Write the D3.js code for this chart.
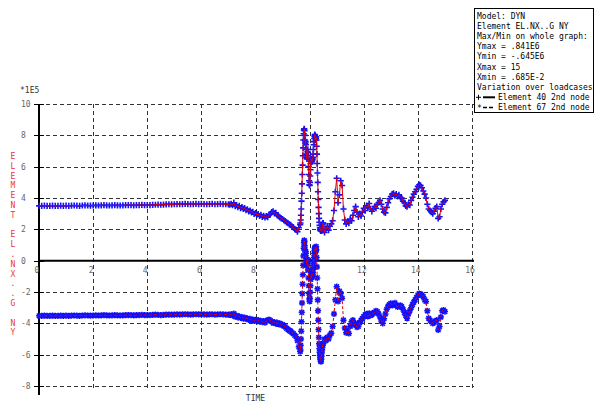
<!DOCTYPE html>
<html>
<head>
<meta charset="utf-8">
<script src="https://cdn.jsdelivr.net/npm/d3@7"></script>
<style>
  body { margin: 0; background: #fff; }
  text { font-family: "DejaVu Sans Mono", monospace; font-size: 8px; }
</style>
</head>
<body>
<script>
// time samples (loadcases)
let times = [
    0.007, 0.1, 0.2, 0.3, 0.4, 0.5, 0.6, 0.7, 0.8, 0.9, 1.0,
    1.1, 1.2, 1.3, 1.4, 1.5, 1.6, 1.7, 1.8, 1.9, 2.0,
    2.1, 2.2, 2.3, 2.4, 2.5, 2.6, 2.7, 2.8, 2.9, 3.0,
    3.1, 3.2, 3.3, 3.4, 3.5, 3.6, 3.7, 3.8, 3.9, 4.0,
    4.1, 4.2, 4.3, 4.4, 4.5, 4.6, 4.7, 4.8, 4.9, 5.0,
    5.1, 5.2, 5.3, 5.4, 5.5, 5.6, 5.7, 5.8, 5.9, 6.0,
    6.1, 6.2, 6.3, 6.4, 6.5, 6.6, 6.7, 6.8, 6.9, 7.0,
    7.05, 7.1, 7.15, 7.2, 7.25, 7.3, 7.35, 7.4, 7.45, 7.5, 7.55, 7.6, 7.65, 7.7, 7.75, 7.8, 7.85, 7.9, 7.95, 8.0,
    8.05, 8.1, 8.15, 8.2, 8.25, 8.3, 8.35, 8.4, 8.45, 8.5, 8.55, 8.6, 8.65, 8.7, 8.75, 8.8, 8.85, 8.9, 8.95, 9.0,
    9.05, 9.1, 9.15, 9.2, 9.25, 9.3, 9.35, 9.4, 9.45, 9.5,
    9.55, 9.6, 9.65,
    9.66, 9.67, 9.68, 9.69, 9.7, 9.71, 9.72, 9.73, 9.74, 9.75, 9.76, 9.77, 9.78, 9.79, 9.8, 9.81, 9.82,
    9.83, 9.84, 9.85, 9.86, 9.87, 9.88, 9.89, 9.9, 9.91, 9.92, 9.93, 9.94, 9.95, 9.96, 9.97, 9.98, 9.99,
    10.0, 10.01, 10.02, 10.03, 10.04, 10.05, 10.06, 10.07, 10.08, 10.09,
    10.1, 10.11, 10.12, 10.13, 10.14, 10.15, 10.16, 10.17, 10.18, 10.19,
    10.2, 10.21, 10.22, 10.23, 10.24, 10.25, 10.26, 10.27, 10.28, 10.29,
    10.3, 10.31, 10.32, 10.33, 10.34, 10.35, 10.36, 10.37, 10.38, 10.39,
    10.4, 10.41, 10.42, 10.43, 10.44, 10.45, 10.46, 10.47, 10.48, 10.49,
    10.5,
    10.55, 10.6, 10.65, 10.7, 10.75, 10.8, 10.85, 10.9, 10.95, 11.0,
    11.05, 11.1, 11.15, 11.2, 11.25, 11.3, 11.35, 11.4, 11.45, 11.5,
    11.55, 11.6, 11.65, 11.7, 11.75, 11.8, 11.85, 11.9, 11.95, 12.0,
    12.05, 12.1, 12.15, 12.2, 12.25, 12.3, 12.35, 12.4, 12.45, 12.5,
    12.55, 12.6, 12.65, 12.7, 12.75, 12.8, 12.85, 12.9, 12.95, 13.0,
    13.05, 13.1, 13.15, 13.2, 13.25, 13.3, 13.35, 13.4, 13.45, 13.5,
    13.55, 13.6, 13.65, 13.7, 13.75, 13.8, 13.85, 13.9, 13.95, 14.0,
    14.05, 14.1, 14.15, 14.2, 14.25, 14.3, 14.35, 14.4, 14.45, 14.5,
    14.55, 14.6, 14.65, 14.7, 14.75, 14.8, 14.85, 14.9, 14.95, 15.0
];

// Element 40 2nd node (*1E5)
let el40 = [
    3.50, 3.50, 3.51, 3.50, 3.50, 3.51, 3.50, 3.50, 3.51, 3.50, 3.51,
    3.50, 3.51, 3.52, 3.51, 3.50, 3.52, 3.53, 3.52, 3.51, 3.52,
    3.53, 3.52, 3.53, 3.54, 3.53, 3.52, 3.53, 3.54, 3.53, 3.52,
    3.53, 3.54, 3.55, 3.54, 3.53, 3.54, 3.55, 3.56, 3.55, 3.54,
    3.55, 3.56, 3.57, 3.58, 3.57, 3.58, 3.59, 3.60, 3.59, 3.60,
    3.61, 3.60, 3.61, 3.62, 3.61, 3.60, 3.61, 3.62, 3.61, 3.62,
    3.61, 3.60, 3.61, 3.62, 3.60, 3.61, 3.62, 3.61, 3.60, 3.59,
    3.58, 3.62, 3.55, 3.70, 3.48, 3.55, 3.42, 3.50, 3.36, 3.42, 3.30, 3.35, 3.22, 3.28, 3.15, 3.20, 3.08, 3.12, 2.98, 3.04,
    2.92, 2.98, 2.85, 2.92, 2.80, 2.86, 2.76, 2.84, 2.78, 2.92, 2.98, 3.10, 3.15, 3.02, 3.05, 2.90, 2.84, 2.76, 2.70, 2.66,
    2.58, 2.52, 2.44, 2.40, 2.32, 2.28, 2.18, 2.12, 2.02, 1.96,
    1.85, 2.10, 2.30,
    2.40, 2.60, 2.90, 3.30, 3.80, 4.30, 4.90, 5.50, 6.10, 6.70, 7.20, 7.70, 8.10, 8.35, 8.41, 8.30, 8.00,
    7.70, 7.50, 7.60, 7.40, 7.10, 6.80, 6.60, 6.50, 6.70, 6.95, 7.10, 6.90, 6.50, 6.00, 5.50, 5.10, 4.85,
    4.80, 5.00, 5.40, 5.80, 6.20, 6.40, 6.50, 6.40, 6.30, 6.35,
    6.50, 6.45, 6.60, 6.80, 7.10, 7.40, 7.60, 7.80, 7.95, 8.05,
    8.00, 7.85, 7.70, 7.80, 7.90, 7.70, 7.30, 6.80, 6.20, 5.60,
    5.00, 4.40, 3.90, 3.40, 3.00, 2.70, 2.45, 2.25, 2.10, 2.00,
    1.95, 1.90, 1.95, 2.05, 2.00, 1.90, 2.00, 2.15, 2.30, 2.40,
    2.40,
    1.80, 2.00, 2.20, 1.95, 2.20, 2.35, 2.55, 3.20, 4.40, 5.26,
    3.70, 4.20, 5.10, 4.80, 3.30, 2.60, 2.35, 2.50, 2.40, 2.65,
    2.55, 2.90, 3.20, 3.45, 3.10, 2.80, 3.00, 2.85, 3.10, 3.35,
    3.20, 3.50, 3.40, 3.65, 3.30, 3.15, 3.30, 3.45, 3.35, 3.60,
    3.70, 3.85, 3.60, 3.30, 3.10, 3.05, 3.40, 3.70, 3.95, 4.10,
    4.25, 4.30, 4.15, 4.25, 4.10, 4.20, 4.05, 4.00, 3.80, 3.70,
    3.50, 3.45, 3.60, 3.55, 3.85, 4.05, 4.25, 4.40, 4.55, 4.75,
    4.85, 4.80, 4.65, 4.45, 4.25, 4.00, 3.60, 3.30, 3.20, 3.10,
    3.00, 3.15, 3.35, 3.45, 2.70, 2.80, 3.30, 3.60, 3.75, 3.85
];

// Element 67 2nd node (*1E5)
let el67 = [
    -3.52, -3.52, -3.51, -3.52, -3.52, -3.51, -3.52, -3.52, -3.51, -3.52, -3.51,
    -3.52, -3.51, -3.50, -3.51, -3.52, -3.50, -3.49, -3.50, -3.51, -3.50,
    -3.49, -3.50, -3.49, -3.48, -3.49, -3.50, -3.49, -3.48, -3.49, -3.50,
    -3.49, -3.48, -3.47, -3.48, -3.49, -3.48, -3.47, -3.46, -3.47, -3.48,
    -3.47, -3.46, -3.45, -3.46, -3.47, -3.46, -3.45, -3.44, -3.45, -3.44,
    -3.43, -3.44, -3.43, -3.42, -3.43, -3.44, -3.43, -3.42, -3.43, -3.42,
    -3.43, -3.44, -3.43, -3.42, -3.44, -3.43, -3.42, -3.43, -3.44, -3.45,
    -3.46, -3.42, -3.50, -3.38, -3.58, -3.50, -3.62, -3.55, -3.66, -3.60, -3.70, -3.64, -3.72, -3.68, -3.78, -3.72, -3.82, -3.76, -3.84, -3.78,
    -3.86, -3.80, -3.90, -3.84, -3.92, -3.86, -3.95, -3.85, -3.80, -3.76, -3.82, -3.90, -3.98, -3.92, -4.02, -3.96, -4.06, -4.00, -4.10, -4.08,
    -4.18, -4.22, -4.32, -4.38, -4.46, -4.50, -4.60, -4.66, -4.76, -4.85,
    -5.10, -5.50, -5.80,
    -5.70, -5.40, -5.00, -4.50, -3.90, -3.30, -2.70, -2.10, -1.50, -0.90, -0.30, 0.30, 0.80, 1.15, 1.30, 1.20, 0.95,
    0.70, 0.55, 0.60, 0.45, 0.20, -0.05, -0.20, -0.30, -0.20, -0.05, 0.05, -0.15, -0.60, -1.10, -1.60, -2.10, -2.45,
    -2.60, -2.40, -2.00, -1.60, -1.20, -1.00, -0.85, -0.95, -1.05, -1.00,
    -0.85, -0.90, -0.75, -0.55, -0.30, -0.05, 0.20, 0.45, 0.65, 0.80,
    0.85, 0.70, 0.55, 0.65, 0.90, 0.70, 0.20, -0.40, -1.10, -1.80,
    -2.50, -3.20, -3.80, -4.40, -4.90, -5.30, -5.60, -5.85, -6.05, -6.20,
    -6.30, -6.40, -6.45, -6.30, -6.10, -5.90, -5.70, -5.55, -5.40, -5.30,
    -5.30,
    -5.00, -5.10, -4.90, -5.00, -4.75, -4.63, -4.20, -3.40, -2.50, -1.66,
    -2.60, -1.95, -2.10, -2.40, -3.80, -4.30, -4.60, -4.50, -4.65, -4.20,
    -3.90, -3.80, -4.10, -4.00, -4.25, -4.20, -3.95, -3.80, -3.70, -3.57,
    -3.45, -3.40, -3.55, -3.36, -3.50, -3.45, -3.35, -3.30, -3.20, -3.25,
    -3.40, -3.60, -3.85, -4.00, -3.70, -3.40, -3.10, -2.90, -2.80, -2.72,
    -2.85, -2.80, -2.70, -2.83, -2.95, -2.90, -2.85, -2.93, -3.10, -3.30,
    -3.50, -3.68, -3.40, -3.20, -3.00, -2.80, -2.65, -2.50, -2.35, -2.20,
    -2.10, -2.13, -2.20, -2.30, -2.50, -2.60, -3.20, -3.68, -3.80, -3.90,
    -4.00, -3.95, -3.85, -3.80, -4.42, -4.20, -3.60, -3.20, -3.15, -3.25
];

let xTicks = [0, 2, 4, 6, 8, 10, 12, 14, 16];
let yTicks = [-8, -6, -4, -2, 0, 2, 4, 6, 8, 10];

let legendLines = [
    "Model: DYN",
    "Element EL.NX..G NY",
    "Max/Min on whole graph:",
    "Ymax = .841E6",
    "Ymin = -.645E6",
    "Xmax = 15",
    "Xmin = .685E-2",
    "Variation over loadcases"
];
let seriesNames = ["Element 40 2nd node", "Element 67 2nd node"];
let yTitle = "ELEMENT EL.NX..G NY";

let width = 595, height = 403;
let pLeft = 39, pRight = 472, pTop = 104, pBottom = 386;

let svg = d3.select("body").append("svg")
    .attr("width", width)
    .attr("height", height);

let scaleX = d3.scaleLinear().domain([0, 16]).range([pLeft, pRight]);
let scaleY = d3.scaleLinear().domain([-8, 10]).range([pBottom, pTop]);

// сетка
let grid = svg.append("g")
    .attr("stroke", "#333")
    .attr("stroke-width", 1)
    .attr("stroke-dasharray", "4,3");

grid.selectAll("line.v")
    .data(xTicks.filter(d => d > 0))
    .enter().append("line")
    .attr("class", "v")
    .attr("x1", d => Math.round(scaleX(d)) + 0.5)
    .attr("x2", d => Math.round(scaleX(d)) + 0.5)
    .attr("y1", pTop)
    .attr("y2", pBottom + 2);

grid.selectAll("line.h")
    .data(yTicks.filter(d => d != 0))
    .enter().append("line")
    .attr("class", "h")
    .attr("x1", pLeft)
    .attr("x2", pRight + 2)
    .attr("y1", d => Math.round(scaleY(d)) + 0.5)
    .attr("y2", d => Math.round(scaleY(d)) + 0.5);

// оси
svg.append("line")
    .attr("x1", pLeft).attr("x2", pRight + 2)
    .attr("y1", scaleY(0)).attr("y2", scaleY(0))
    .attr("stroke", "#000").attr("stroke-width", 2);

svg.append("line")
    .attr("x1", pLeft).attr("x2", pLeft)
    .attr("y1", pTop).attr("y2", pBottom + 9)
    .attr("stroke", "#000").attr("stroke-width", 2);

svg.selectAll("line.ytick")
    .data(yTicks)
    .enter().append("line")
    .attr("class", "ytick")
    .attr("x1", pLeft - 5).attr("x2", pLeft + 5)
    .attr("y1", d => Math.round(scaleY(d)) + 0.5)
    .attr("y2", d => Math.round(scaleY(d)) + 0.5)
    .attr("stroke", "#000");

svg.selectAll("text.ylab")
    .data(yTicks)
    .enter().append("text")
    .attr("class", "ylab")
    .attr("x", 21)
    .attr("y", d => scaleY(d) + 3)
    .attr("fill", "#666")
    .text(d => d);

svg.selectAll("text.xlab")
    .data(xTicks)
    .enter().append("text")
    .attr("class", "xlab")
    .attr("x", d => scaleX(d) - 2)
    .attr("y", scaleY(0) + 12)
    .attr("text-anchor", "middle")
    .attr("fill", "#666")
    .text(d => d);

svg.append("text")
    .attr("x", 20).attr("y", 93)
    .attr("fill", "#333")
    .text("*1E5");

svg.append("text")
    .attr("x", scaleX(8)).attr("y", 401)
    .attr("text-anchor", "middle")
    .attr("fill", "#333")
    .text("TIME");

// подпись оси Y - буквы столбиком
svg.selectAll("text.ytitle")
    .data(yTitle.split(""))
    .enter().append("text")
    .attr("class", "ytitle")
    .attr("x", 13)
    .attr("y", (d, i) => 159 + i * 9.8)
    .attr("text-anchor", "middle")
    .attr("fill", "#e83838")
    .text(d => d);

// данные
let pts40 = times.map((t, i) => ({ x: scaleX(t), y: scaleY(el40[i]) }));
let pts67 = times.map((t, i) => ({ x: scaleX(t), y: scaleY(el67[i]) }));

let r = 3.1;

// маркеры "+"
let plus = svg.append("g").attr("stroke", "#1010ff").attr("stroke-width", 1.6);
plus.selectAll("path")
    .data(pts40)
    .enter().append("path")
    .attr("d", d => "M" + (d.x - r) + "," + d.y + "H" + (d.x + r) + "M" + d.x + "," + (d.y - r) + "V" + (d.y + r));

// маркеры "*"
let star = svg.append("g").attr("stroke", "#1010ff").attr("stroke-width", 1.5);
star.selectAll("path")
    .data(pts67)
    .enter().append("path")
    .attr("d", d => {
        let k = r * 0.75;
        return "M" + (d.x - r) + "," + d.y + "H" + (d.x + r) +
            "M" + d.x + "," + (d.y - r) + "V" + (d.y + r) +
            "M" + (d.x - k) + "," + (d.y - k) + "L" + (d.x + k) + "," + (d.y + k) +
            "M" + (d.x - k) + "," + (d.y + k) + "L" + (d.x + k) + "," + (d.y - k);
    });

let line = d3.line()
    .x(d => d.x)
    .y(d => d.y);

svg.append("path")
    .attr("d", line(pts40))
    .attr("fill", "none")
    .attr("stroke", "#e00000")
    .attr("stroke-width", 1);

svg.append("path")
    .attr("d", line(pts67))
    .attr("fill", "none")
    .attr("stroke", "#e00000")
    .attr("stroke-width", 1)
    .attr("stroke-dasharray", "3,2");

// легенда
let lg = svg.append("g");
lg.append("rect")
    .attr("x", 474.5).attr("y", 8.5)
    .attr("width", 119).attr("height", 104)
    .attr("fill", "#fff")
    .attr("stroke", "#000");

lg.selectAll("text.info")
    .data(legendLines)
    .enter().append("text")
    .attr("class", "info")
    .attr("x", 477)
    .attr("y", (d, i) => 18.5 + i * 10.2)
    .attr("fill", "#000")
    .text(d => d);

let ly1 = 15.7 + 8 * 10.2, ly2 = 15.7 + 9 * 10.2;
lg.append("path")
    .attr("d", "M476," + ly1 + "H481M478.5," + (ly1 - 2.5) + "V" + (ly1 + 2.5))
    .attr("stroke", "#000");
lg.append("line")
    .attr("x1", 483).attr("x2", 495).attr("y1", ly1).attr("y2", ly1)
    .attr("stroke", "#000").attr("stroke-width", 2);
lg.append("text")
    .attr("x", 477).attr("y", ly2 + 3)
    .attr("fill", "#000")
    .text("*");
lg.append("line")
    .attr("x1", 483).attr("x2", 495).attr("y1", ly2).attr("y2", ly2)
    .attr("stroke", "#000").attr("stroke-width", 1.5)
    .attr("stroke-dasharray", "4,2");

lg.selectAll("text.series")
    .data(seriesNames)
    .enter().append("text")
    .attr("class", "series")
    .attr("x", 498)
    .attr("y", (d, i) => 18.5 + (8 + i) * 10.2)
    .attr("fill", "#000")
    .text(d => d);
</script>
</body>
</html>
